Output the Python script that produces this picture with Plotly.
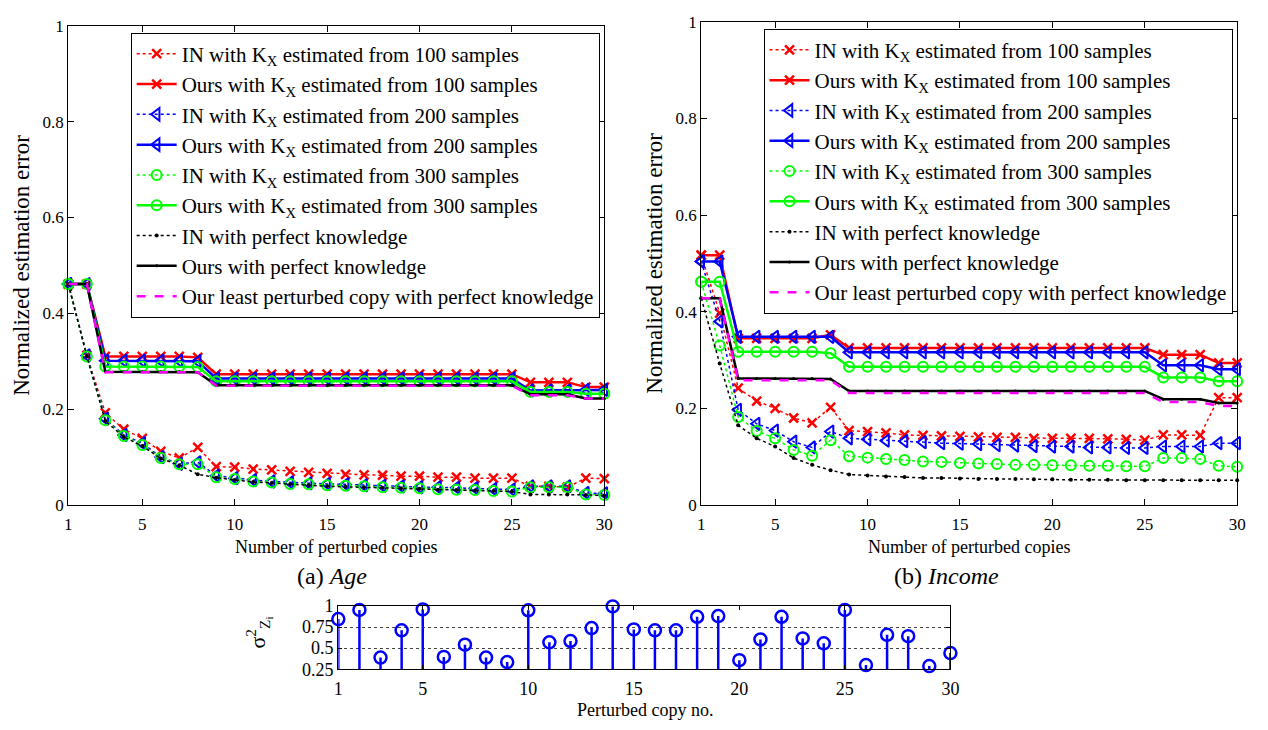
import plotly.graph_objects as go

# page is 1268x730; the browser body keeps an 8px margin, so the figure itself is 16px smaller
PAGE_W, PAGE_H, BODY_MARGIN = 1268, 730, 8
FW, FH = PAGE_W - 2 * BODY_MARGIN, PAGE_H - 2 * BODY_MARGIN

copies = list(range(1, 31))
x_tickvals = [1, 5, 10, 15, 20, 25, 30]
x_ticktext = ["1", "5", "10", "15", "20", "25", "30"]
y_tickvals = [0, 0.2, 0.4, 0.6, 0.8, 1]
y_ticktext = ["0", "0.2", "0.4", "0.6", "0.8", "1"]
s_tickvals = [0.25, 0.5, 0.75, 1]
s_ticktext = ["0.25", "0.5", "0.75", "1"]

series_names = [
    "IN with K<sub>X</sub> estimated from 100 samples",
    "Ours with K<sub>X</sub> estimated from 100 samples",
    "IN with K<sub>X</sub> estimated from 200 samples",
    "Ours with K<sub>X</sub> estimated from 200 samples",
    "IN with K<sub>X</sub> estimated from 300 samples",
    "Ours with K<sub>X</sub> estimated from 300 samples",
    "IN with perfect knowledge",
    "Ours with perfect knowledge",
    "Our least perturbed copy with perfect knowledge",
]

# ---- (a) Age ----
age_in100 = [0.461, 0.312, 0.192, 0.158, 0.139, 0.112, 0.098, 0.120, 0.080, 0.079,
             0.075, 0.073, 0.070, 0.068, 0.066, 0.064, 0.063, 0.062, 0.060, 0.060,
             0.058, 0.058, 0.056, 0.056, 0.056, 0.039, 0.039, 0.037, 0.056, 0.055]
age_ours100 = [0.461, 0.461, 0.310, 0.310, 0.310, 0.310, 0.310, 0.308, 0.273, 0.273,
               0.273, 0.273, 0.273, 0.273, 0.273, 0.273, 0.273, 0.273, 0.273, 0.273,
               0.273, 0.273, 0.273, 0.273, 0.273, 0.256, 0.256, 0.256, 0.246, 0.246]
age_in200 = [0.461, 0.312, 0.180, 0.146, 0.129, 0.100, 0.086, 0.089, 0.061, 0.056,
             0.052, 0.049, 0.047, 0.045, 0.044, 0.043, 0.041, 0.040, 0.039, 0.037,
             0.037, 0.036, 0.035, 0.033, 0.032, 0.039, 0.039, 0.039, 0.025, 0.024]
age_ours200 = [0.461, 0.461, 0.301, 0.301, 0.301, 0.301, 0.301, 0.300, 0.264, 0.264,
               0.264, 0.264, 0.264, 0.264, 0.264, 0.264, 0.264, 0.264, 0.264, 0.264,
               0.264, 0.264, 0.264, 0.264, 0.264, 0.239, 0.239, 0.239, 0.240, 0.240]
age_in300 = [0.461, 0.310, 0.177, 0.144, 0.125, 0.098, 0.085, 0.085, 0.058, 0.054,
             0.049, 0.047, 0.044, 0.043, 0.041, 0.040, 0.039, 0.037, 0.036, 0.035,
             0.033, 0.032, 0.031, 0.029, 0.028, 0.037, 0.037, 0.037, 0.022, 0.021]
age_ours300 = [0.461, 0.461, 0.289, 0.289, 0.289, 0.289, 0.289, 0.288, 0.258, 0.258,
               0.258, 0.258, 0.258, 0.258, 0.258, 0.258, 0.258, 0.258, 0.258, 0.258,
               0.258, 0.258, 0.258, 0.258, 0.258, 0.236, 0.236, 0.236, 0.232, 0.232]
age_inpk = [0.461, 0.310, 0.175, 0.142, 0.123, 0.097, 0.083, 0.064, 0.057, 0.052,
            0.048, 0.046, 0.043, 0.041, 0.039, 0.038, 0.037, 0.036, 0.035, 0.034,
            0.032, 0.031, 0.030, 0.029, 0.028, 0.022, 0.022, 0.022, 0.021, 0.020]
age_ourspk = [0.461, 0.461, 0.278, 0.278, 0.278, 0.278, 0.278, 0.277, 0.250, 0.250,
              0.250, 0.250, 0.250, 0.250, 0.250, 0.250, 0.250, 0.250, 0.250, 0.250,
              0.250, 0.250, 0.250, 0.250, 0.250, 0.231, 0.231, 0.231, 0.222, 0.222]
age_least = [0.461, 0.461, 0.277, 0.277, 0.277, 0.277, 0.277, 0.277, 0.249, 0.249,
             0.249, 0.249, 0.249, 0.249, 0.249, 0.249, 0.249, 0.249, 0.249, 0.249,
             0.249, 0.249, 0.249, 0.249, 0.249, 0.229, 0.229, 0.229, 0.222, 0.222]

# ---- (b) Income ----
inc_in100 = [0.517, 0.397, 0.242, 0.215, 0.200, 0.180, 0.170, 0.202, 0.154, 0.152,
             0.149, 0.145, 0.144, 0.143, 0.142, 0.141, 0.140, 0.140, 0.138, 0.138,
             0.138, 0.138, 0.137, 0.136, 0.134, 0.145, 0.145, 0.144, 0.222, 0.222]
inc_ours100 = [0.517, 0.517, 0.345, 0.345, 0.345, 0.345, 0.345, 0.352, 0.325, 0.325,
               0.325, 0.325, 0.325, 0.325, 0.325, 0.325, 0.325, 0.325, 0.325, 0.325,
               0.325, 0.325, 0.325, 0.325, 0.325, 0.311, 0.311, 0.311, 0.294, 0.294]
inc_in200 = [0.504, 0.380, 0.197, 0.168, 0.154, 0.131, 0.119, 0.152, 0.138, 0.136,
             0.133, 0.132, 0.130, 0.128, 0.127, 0.126, 0.124, 0.123, 0.122, 0.121,
             0.121, 0.119, 0.119, 0.118, 0.118, 0.121, 0.121, 0.121, 0.128, 0.128]
inc_ours200 = [0.504, 0.504, 0.348, 0.348, 0.348, 0.348, 0.348, 0.348, 0.316, 0.316,
               0.316, 0.316, 0.316, 0.316, 0.316, 0.316, 0.316, 0.316, 0.316, 0.316,
               0.316, 0.316, 0.316, 0.316, 0.316, 0.289, 0.289, 0.289, 0.281, 0.281]
inc_in300 = [0.462, 0.330, 0.182, 0.153, 0.138, 0.114, 0.102, 0.134, 0.101, 0.098,
             0.095, 0.093, 0.090, 0.089, 0.087, 0.086, 0.085, 0.083, 0.083, 0.082,
             0.082, 0.081, 0.081, 0.080, 0.080, 0.097, 0.097, 0.095, 0.081, 0.079]
inc_ours300 = [0.462, 0.462, 0.317, 0.317, 0.317, 0.317, 0.317, 0.314, 0.286, 0.286,
               0.286, 0.286, 0.286, 0.286, 0.286, 0.286, 0.286, 0.286, 0.286, 0.286,
               0.286, 0.286, 0.286, 0.286, 0.286, 0.264, 0.264, 0.264, 0.256, 0.256]
inc_inpk = [0.428, 0.293, 0.165, 0.138, 0.121, 0.097, 0.083, 0.072, 0.063, 0.061,
            0.059, 0.058, 0.056, 0.056, 0.055, 0.054, 0.054, 0.054, 0.053, 0.053,
            0.052, 0.052, 0.052, 0.051, 0.051, 0.051, 0.051, 0.051, 0.051, 0.051]
inc_ourspk = [0.428, 0.428, 0.262, 0.262, 0.262, 0.262, 0.262, 0.261, 0.236, 0.236,
              0.236, 0.236, 0.236, 0.236, 0.236, 0.236, 0.236, 0.236, 0.236, 0.236,
              0.236, 0.236, 0.236, 0.236, 0.236, 0.219, 0.219, 0.219, 0.211, 0.211]
inc_least = [0.428, 0.428, 0.258, 0.258, 0.258, 0.258, 0.258, 0.258, 0.232, 0.232,
             0.232, 0.232, 0.232, 0.232, 0.232, 0.232, 0.232, 0.232, 0.232, 0.232,
             0.232, 0.232, 0.232, 0.232, 0.232, 0.213, 0.213, 0.213, 0.205, 0.205]

# ---- noise variance per perturbed copy ----
sigma2 = [0.846, 0.954, 0.388, 0.712, 0.960, 0.396, 0.542, 0.388, 0.335, 0.950,
          0.569, 0.585, 0.738, 0.996, 0.723, 0.712, 0.712, 0.873, 0.881, 0.358,
          0.604, 0.873, 0.615, 0.558, 0.954, 0.300, 0.658, 0.642, 0.288, 0.442]

RED, BLUE, GREEN, BLACK, MAG = "#ff0000", "#0000ff", "#00ff00", "#000000", "#ff00ff"
FONT = "Liberation Serif"

styles = [
    dict(color=RED, dash="dot", width=1.5, symbol="x-thin", size=9, mlw=2.5),
    dict(color=RED, dash="solid", width=2.5, symbol="x-thin", size=9, mlw=2.5),
    dict(color=BLUE, dash="dot", width=1.5, symbol="triangle-left-open", size=11, mlw=2),
    dict(color=BLUE, dash="solid", width=2.5, symbol="triangle-left-open", size=11, mlw=2),
    dict(color=GREEN, dash="dot", width=1.5, symbol="circle-open", size=10, mlw=2),
    dict(color=GREEN, dash="solid", width=2.5, symbol="circle-open", size=10, mlw=2),
    dict(color=BLACK, dash="dot", width=1.5, symbol="circle", size=4, mlw=0),
    dict(color=BLACK, dash="solid", width=2.5, symbol="circle", size=3, mlw=0),
    dict(color=MAG, dash="dash", width=2.5, symbol=None, size=0, mlw=0),
]

fig = go.Figure()

def add_panel(series, xa, ya, legend):
    for name, ys, st in zip(series_names, series, styles):
        kw = dict(x=copies, y=ys, name=name, xaxis=xa, yaxis=ya, legend=legend,
                  cliponaxis=False,
                  line=dict(color=st["color"], dash=st["dash"], width=st["width"]))
        if st["symbol"] is None:
            kw["mode"] = "lines"
        else:
            kw["mode"] = "lines+markers"
            kw["marker"] = dict(symbol=st["symbol"], size=st["size"], color=st["color"],
                                line=dict(color=st["color"], width=st["mlw"]))
        fig.add_trace(go.Scatter(**kw))

add_panel([age_in100, age_ours100, age_in200, age_ours200, age_in300, age_ours300,
           age_inpk, age_ourspk, age_least], "x", "y", "legend")
add_panel([inc_in100, inc_ours100, inc_in200, inc_ours200, inc_in300, inc_ours300,
           inc_inpk, inc_ourspk, inc_least], "x2", "y2", "legend2")

fig.add_trace(go.Scatter(
    x=copies, y=sigma2, mode="markers", xaxis="x3", yaxis="y3", showlegend=False,
    cliponaxis=False,
    marker=dict(symbol="circle-open", size=12, color=BLUE, line=dict(color=BLUE, width=2.5)),
    error_y=dict(type="data", symmetric=False, array=[0] * len(sigma2),
                 arrayminus=[v - s_tickvals[0] for v in sigma2],
                 width=0, thickness=2.5, color=BLUE),
))

# page-pixel -> paper fraction
def px(v):
    return (v - BODY_MARGIN) / FW

def py(v):
    return 1 - (v - BODY_MARGIN) / FH

axis_common = dict(showline=True, linecolor="black", linewidth=1.2, mirror="ticks",
                   ticks="inside", ticklen=6, tickwidth=1, tickcolor="black",
                   showgrid=False, zeroline=False,
                   tickfont=dict(family=FONT, size=17, color="black"))
stem_font = dict(family=FONT, size=18, color="black")

fig.update_layout(
    width=FW, height=FH,
    margin=dict(l=0, r=0, t=0, b=0),
    paper_bgcolor="white", plot_bgcolor="white",
    font=dict(family=FONT, color="black"),
    xaxis=dict(domain=[px(64), px(606)], range=[1, 30], tickvals=x_tickvals,
               ticktext=x_ticktext, anchor="y", ticklabelstandoff=4, **axis_common),
    yaxis=dict(domain=[py(509), py(16)], range=[0, 1], tickvals=y_tickvals,
               ticktext=y_ticktext, anchor="x", **axis_common),
    xaxis2=dict(domain=[px(704), px(1246)], range=[1, 30], tickvals=x_tickvals,
                ticktext=x_ticktext, anchor="y2", ticklabelstandoff=4, **axis_common),
    yaxis2=dict(domain=[py(509), py(12)], range=[0, 1], tickvals=y_tickvals,
                ticktext=y_ticktext, anchor="x2", **axis_common),
    xaxis3=dict(domain=[px(337), px(956)], range=[1, 30], tickvals=x_tickvals,
                ticktext=x_ticktext, anchor="y3", ticklabelstandoff=3,
                **dict(axis_common, ticklen=4, tickfont=stem_font)),
    yaxis3=dict(domain=[py(678), py(613)], range=[0.25, 1], tickvals=s_tickvals,
                ticktext=s_ticktext, anchor="x3",
                **dict(axis_common, ticklen=4, showgrid=True, gridcolor="#444444",
                       griddash="dot", gridwidth=1, tickfont=stem_font)),
    legend=dict(x=px(127), y=py(23), xanchor="left", yanchor="top",
                bgcolor="white", bordercolor="black", borderwidth=1,
                font=dict(family=FONT, size=21, color="black"), tracegroupgap=0,
                itemwidth=40),
    legend2=dict(x=px(767), y=py(19), xanchor="left", yanchor="top",
                 bgcolor="white", bordercolor="black", borderwidth=1,
                 font=dict(family=FONT, size=21, color="black"), tracegroupgap=0,
                 itemwidth=40),
    showlegend=True,
)

annos = [
    dict(text="Normalized estimation error", x=px(17), y=py(262), textangle=-90, size=23),
    dict(text="Normalized estimation error", x=px(657), y=py(260), textangle=-90, size=23),
    dict(text="Number of perturbed copies", x=px(335), y=py(552), textangle=0, size=18),
    dict(text="Number of perturbed copies", x=px(975), y=py(552), textangle=0, size=18),
    dict(text="(a) <i>Age</i>", x=px(331), y=py(582), textangle=0, size=24),
    dict(text="(b) <i>Income</i>", x=px(952), y=py(582), textangle=0, size=24),
    dict(text="Perturbed copy no.", x=px(647), y=py(720), textangle=0, size=18),
    dict(text="σ<sup>2</sup><sub>Z<sub>i</sub></sub>", x=px(256), y=py(640), textangle=-90, size=22),
]
for a in annos:
    fig.add_annotation(text=a["text"], x=a["x"], y=a["y"], xref="paper", yref="paper",
                       xanchor="center", yanchor="middle", showarrow=False,
                       textangle=a["textangle"],
                       font=dict(family=FONT, size=a["size"], color="black"))

fig.write_html("out.html", config={"displayModeBar": False})
